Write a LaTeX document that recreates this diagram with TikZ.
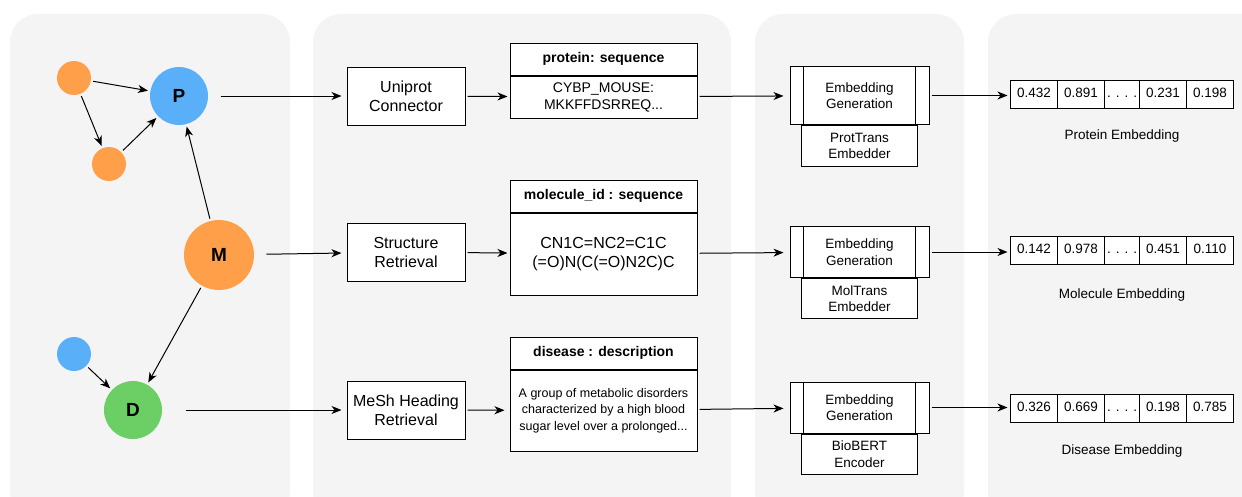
\documentclass[tikz,border=0pt]{standalone}
\usepackage{fontspec}
\setmainfont{Liberation Sans}
\usetikzlibrary{matrix}
\usetikzlibrary{arrows.meta}
\usetikzlibrary{positioning}

\definecolor{panelgray}{HTML}{F4F4F4}
\definecolor{nodeorange}{HTML}{FF9F4A}
\definecolor{nodeblue}{HTML}{5AB0F8}
\definecolor{nodegreen}{HTML}{6CCF65}

\tikzset{
  panel/.style={fill=panelgray, rounded corners=28pt},
  ent/.style={circle, inner sep=0pt, font=\bfseries\fontsize{19}{22}\selectfont},
  minor/.style={ent, minimum size=34pt},
  proc/.style={draw, fill=white, minimum width=118pt, minimum height=58pt, align=center, font=\fontsize{16}{19}\selectfont},
  tabhead/.style={draw, fill=white, minimum width=187pt, minimum height=32pt, font=\bfseries\fontsize{14}{16}\selectfont},
  tabbody/.style={draw, fill=white, minimum width=187pt, align=center, below=0pt of #1},
  embgen/.style={draw, fill=white, minimum width=139pt, align=center, font=\fontsize{13.5}{16.5}\selectfont},
  embsub/.style={draw, fill=white, minimum width=116pt, align=center, font=\fontsize{13.5}{16.5}\selectfont, below=0pt of #1},
  vec/.style={matrix of nodes, column sep=-1pt, inner sep=0pt,
    nodes={draw, fill=white, minimum width=47pt, minimum height=28pt, inner sep=0pt, text height=10pt, text depth=3pt, anchor=center, font=\fontsize{13.5}{16}\selectfont},
    column 3/.style={nodes={minimum width=35pt}}},
  veclabel/.style={font=\fontsize{13.5}{16}\selectfont},
  arr/.style={-{Stealth[length=10pt,width=8pt,inset=3pt]}, shorten >=2pt, shorten <=2pt},
}

\begin{document}
\begin{tikzpicture}[x=1pt, y=-1pt, line width=1pt]
  \useasboundingbox (0,0) rectangle (1242,496);
  \fill[panel] (10,14) rectangle (290,520);
  \fill[panel] (313,14) rectangle (731,520);
  \fill[panel] (755,14) rectangle (964,520);
  \fill[panel] (988,14) rectangle (1270,520);

  \node[minor, fill=nodeorange] (o1) at (74,78) {};
  \node[ent, fill=nodeblue, minimum size=58pt] (P) at (179,96) {P};
  \node[minor, fill=nodeorange] (o2) at (109,164) {};
  \node[ent, fill=nodeorange, minimum size=70pt] (M) at (219,255) {M};
  \node[minor, fill=nodeblue] (b1) at (74,354) {};
  \node[ent, fill=nodegreen, minimum size=58pt] (D) at (133,410) {D};

  \node[proc] (uni) at (406,96) {Uniprot\\Connector};
  \node[proc] (str) at (406,252) {Structure\\Retrieval};
  \node[proc] (mesh) at (406,410) {MeSh Heading\\Retrieval};

  \node[tabhead] (prohead) at (603.5,59) {protein: sequence};
  \node[tabbody=prohead, minimum height=42pt, font=\fontsize{14}{17}\selectfont] (probody) {CYBP\_MOUSE:\\MKKFFDSRREQ...};
  \node[tabhead] (molhead) at (603.5,196) {molecule\_id : sequence};
  \node[tabbody=molhead, minimum height=82pt, font=\fontsize{16}{19}\selectfont] (molbody) {CN1C=NC2=C1C\\(=O)N(C(=O)N2C)C};
  \node[tabhead] (dishead) at (603.5,353) {disease : description};
  \node[tabbody=dishead, minimum height=81pt, font=\fontsize{12.5}{16.5}\selectfont] (disbody) {A group of metabolic disorders\\characterized by a high blood\\sugar level over a prolonged...};

  \node[embgen, minimum height=58pt] (emb1) at (859.5,95.5) {Embedding\\Generation};
  \node[embsub=emb1, minimum height=41pt] (protrans) {ProtTrans\\Embedder};
  \node[embgen, minimum height=51pt] (emb2) at (859.5,252) {Embedding\\Generation};
  \node[embsub=emb2, minimum height=40pt] (moltrans) {MolTrans\\Embedder};
  \node[embgen, minimum height=51pt] (emb3) at (859.5,407.5) {Embedding\\Generation};
  \node[embsub=emb3, minimum height=40pt] (biobert) {BioBERT\\Encoder};
  \foreach \e in {emb1,emb2,emb3}
    \draw ([xshift=14pt]\e.north west) -- ([xshift=14pt]\e.south west)
          ([xshift=-14pt]\e.north east) -- ([xshift=-14pt]\e.south east);

  \matrix (pvec) [vec] at (1122,94) {0.432 & 0.891 & . . . . & 0.231 & 0.198\\};
  \node[veclabel] (plab) at (1122,136) {Protein Embedding};
  \matrix (mvec) [vec] at (1122,250) {0.142 & 0.978 & . . . . & 0.451 & 0.110\\};
  \node[veclabel] (mlab) at (1122,295) {Molecule Embedding};
  \matrix (dvec) [vec] at (1122,408) {0.326 & 0.669 & . . . . & 0.198 & 0.785\\};
  \node[veclabel] (dlab) at (1122,451) {Disease Embedding};

  \path[arr]
    (o1) edge (P)
         edge (o2)
    (o2) edge (P)
    (M) edge (P)
        edge (D)
    (b1) edge (D);
  \path[arr]
    (P) edge[shorten <=12pt, shorten >=5pt] (uni)
    (M) edge[shorten <=12pt, shorten >=5pt] (str)
    (D) edge[shorten <=23pt, shorten >=5pt] (mesh)
    (uni) edge (probody)
    (str) edge (molbody)
    (mesh) edge[shorten >=5pt] (disbody)
    (probody) edge[shorten >=6pt] (emb1)
    (molbody) edge[shorten >=6pt] (emb2)
    (disbody) edge[shorten >=6pt] (emb3);
  \draw[arr] (emb1.east) -- (emb1.east -| pvec.west);
  \draw[arr] (emb2.east) -- (emb2.east -| mvec.west);
  \draw[arr] (emb3.east) -- (emb3.east -| dvec.west);
\end{tikzpicture}
\end{document}
